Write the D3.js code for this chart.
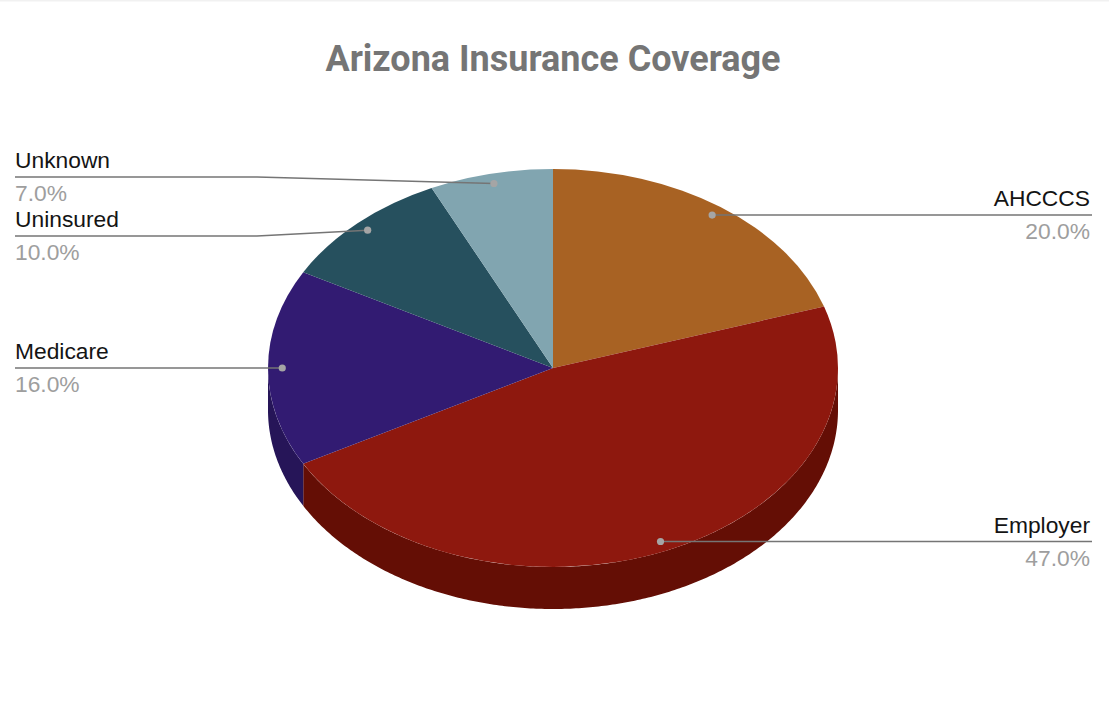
<!DOCTYPE html>
<html>
<head>
<meta charset="utf-8">
<title>Arizona Insurance Coverage</title>
<script src="https://cdn.jsdelivr.net/npm/d3@7"></script>
<style>
  html, body { margin: 0; padding: 0; background: #fff; }
  svg { display: block; }
  text { font-family: "Liberation Sans", Arial, sans-serif; }
</style>
</head>
<body>
<div id="chart"></div>
<script>
var categories = ["AHCCCS", "Employer", "Medicare", "Uninsured", "Unknown"];
var shares = [20, 47, 16, 10, 7];
var topColours = ["#a86223", "#8e180e", "#321b72", "#26505e", "#81a5b0"];
var sideColours = ["#744418", "#640e05", "#261558", "#1a3741", "#5a737b"];

var width = 1109, height = 707;
var cx = 553, cy = 368, rx = 285, ry = 199, depth = 42;

// y of the elbow on the left hand labels, the others run flat from their dot
var leaderY = { "Unknown": 177, "Uninsured": 236 };
var elbowX = 257, leftX = 15, rightX = 1092;

var svg = d3.select("#chart").append("svg")
    .attr("width", width)
    .attr("height", height);

svg.append("rect")
    .attr("width", width)
    .attr("height", 1.5)
    .attr("fill", "#f1f1f1");

svg.append("text")
    .attr("x", cx)
    .attr("y", 71)
    .attr("text-anchor", "middle")
    .attr("fill", "#757575")
    .style("font-family", "Roboto")
    .style("font-weight", 700)
    .style("font-size", "36px")
    .text("Arizona Insurance Coverage");

var slices = d3.pie().sort(null).value(function(d) { return d; })(shares);

function px(a, f) { return cx + rx * f * Math.sin(a); }
function py(a, f) { return cy - ry * f * Math.cos(a); }

// side wall, only the part of the rim that faces the viewer
var wall = svg.append("g");
slices.forEach(function(s, i) {
    var a0 = Math.max(s.startAngle, Math.PI / 2);
    var a1 = Math.min(s.endAngle, Math.PI * 1.5);
    if (a1 <= a0) return;
    var angles = d3.range(a0, a1, 0.01).concat([a1]);
    var pts = angles.map(function(a) { return [px(a, 1), py(a, 1)]; });
    var under = angles.slice().reverse().map(function(a) { return [px(a, 1), py(a, 1) + depth]; });
    wall.append("path")
        .attr("d", d3.line()(pts.concat(under)) + "Z")
        .attr("fill", sideColours[i]);
});

var arc = d3.arc().innerRadius(0).outerRadius(rx);

svg.append("g")
    .attr("transform", "translate(" + cx + "," + cy + ") scale(1," + (ry / rx) + ")")
  .selectAll("path")
    .data(slices)
  .enter().append("path")
    .attr("d", arc)
    .attr("fill", function(d, i) { return topColours[i]; });

var labels = svg.append("g");
slices.forEach(function(s, i) {
    var name = categories[i];
    var mid = (s.startAngle + s.endAngle) / 2;
    var dx = px(mid, 0.95), dy = py(mid, 0.95);
    var onRight = dx > cx;
    var y = leaderY[name] || dy;
    var edge = onRight ? rightX : leftX;
    var pts = leaderY[name] ? [[dx, dy], [elbowX, y], [edge, y]] : [[dx, dy], [edge, y]];

    labels.append("path")
        .attr("d", d3.line()(pts))
        .attr("fill", "none")
        .attr("stroke", "#757575")
        .attr("stroke-width", 1.6);

    labels.append("circle")
        .attr("cx", dx)
        .attr("cy", dy)
        .attr("r", 3.6)
        .attr("fill", "#a5a5a5");

    labels.append("text")
        .attr("x", onRight ? rightX - 2 : leftX)
        .attr("y", y - 9)
        .attr("text-anchor", onRight ? "end" : "start")
        .attr("fill", "#141414")
        .style("font-size", "22.8px")
        .text(name);

    labels.append("text")
        .attr("x", onRight ? rightX - 2 : leftX)
        .attr("y", y + 24)
        .attr("text-anchor", onRight ? "end" : "start")
        .attr("fill", "#9e9e9e")
        .style("font-size", "22.8px")
        .text(shares[i].toFixed(1) + "%");
});
</script>
</body>
</html>
